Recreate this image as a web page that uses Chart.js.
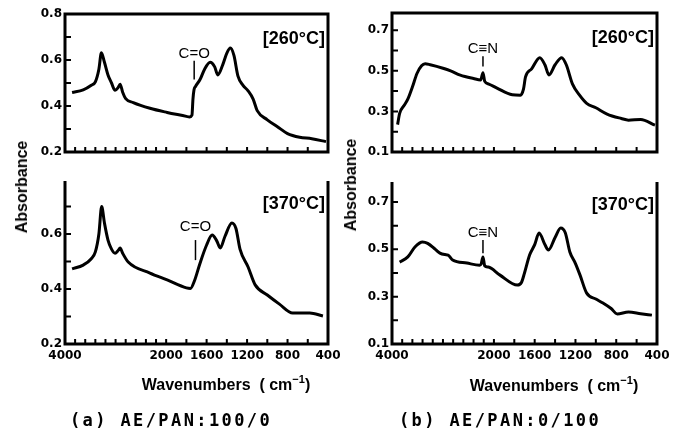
<!DOCTYPE html>
<html>
<head>
<meta charset="utf-8">
<script src="https://cdn.jsdelivr.net/npm/chart.js@4.4.1/dist/chart.umd.min.js"></script>
<style>
  body { margin: 0; background: #fff; width: 683px; height: 431px; position: relative; overflow: hidden;
         font-family: "Liberation Sans", Arial, sans-serif; }
  canvas { position: absolute; left: 0; top: 0; }
  .t { position: absolute; font-weight: bold; color: #000; white-space: nowrap; transform: translate(-50%, -50%); }
  .rot { transform: translate(-50%, -50%) rotate(-90deg); }
  .cap { font-family: "DejaVu Sans Mono", monospace; font-size: 17px; letter-spacing: 2.4px; }
  sup { font-size: 11px; position: relative; top: -1px; }
</style>
</head>
<body>
<canvas id="c1" width="683" height="431"></canvas>
<canvas id="c2" width="683" height="431"></canvas>
<canvas id="c3" width="683" height="431"></canvas>
<canvas id="c4" width="683" height="431"></canvas>

<div class="t rot" style="left:22px;top:187px;font-size:16px">Absorbance</div>
<div class="t rot" style="left:351px;top:185px;font-size:16px">Absorbance</div>
<div class="t" style="left:226px;top:384px;font-size:16px">Wavenumbers &nbsp;( cm<sup>−1</sup>)</div>
<div class="t" style="left:554px;top:385px;font-size:16px">Wavenumbers &nbsp;( cm<sup>−1</sup>)</div>
<div class="t cap" style="left:171px;top:420px">(a) AE/PAN:100/0</div>
<div class="t cap" style="left:500px;top:420px">(b) AE/PAN:0/100</div>

<script>
// tick labels / marks
const xLabels = [4000, 2000, 1600, 1200, 800, 400];
const xMarks = [4000, 3800, 3600, 3400, 3200, 3000, 2800, 2600, 2400, 2200, 2000,
                1800, 1600, 1400, 1200, 1000, 800, 600, 400];
const yLabelsTL = [0.2, 0.4, 0.6, 0.8];
const yLabelsBL = [0.2, 0.4, 0.6];
const yMarksA = [0.2, 0.3, 0.4, 0.5, 0.6, 0.7];
const yLabelsB = [0.1, 0.3, 0.5, 0.7];
const yMarksB = [0.1, 0.2, 0.3, 0.4, 0.5, 0.6, 0.7];

// (a) AE/PAN 100/0, 260 C
const wA260 = [3860, 3640, 3480, 3400, 3330, 3280, 3220, 3150, 3080, 3010, 2950, 2910, 2860, 2800, 2650,
               2320, 1990, 1800, 1770, 1745, 1735, 1725, 1710, 1665, 1620, 1565, 1520, 1490, 1440, 1400,
               1365, 1330, 1290, 1240, 1190, 1140, 1100, 1000, 900, 800, 680, 560, 420];
const aA260 = [0.459, 0.47, 0.49, 0.505, 0.56, 0.632, 0.59, 0.535, 0.50, 0.468, 0.48, 0.495, 0.46, 0.432, 0.415,
               0.39, 0.372, 0.355, 0.352, 0.36, 0.43, 0.47, 0.485, 0.515, 0.56, 0.59, 0.57, 0.535, 0.58, 0.63,
               0.652, 0.62, 0.53, 0.49, 0.466, 0.43, 0.38, 0.34, 0.31, 0.28, 0.264, 0.258, 0.245];
// (a) 370 C
const wA370 = [3860, 3640, 3480, 3400, 3330, 3275, 3220, 3150, 3080, 3010, 2950, 2910, 2860, 2750, 2320,
               1990, 1800, 1760, 1720, 1665, 1600, 1545, 1500, 1465, 1420, 1350, 1310, 1270, 1190, 1120,
               1000, 880, 750, 580, 450];
const aA370 = [0.473, 0.487, 0.51, 0.535, 0.60, 0.70, 0.64, 0.578, 0.545, 0.53, 0.54, 0.549, 0.53, 0.498, 0.458,
               0.433, 0.404, 0.402, 0.43, 0.494, 0.56, 0.596, 0.575, 0.549, 0.59, 0.64, 0.62, 0.545, 0.48, 0.415,
               0.378, 0.345, 0.313, 0.313, 0.302];
// (b) AE/PAN 0/100, 260 C
const wB260 = [3890, 3850, 3760, 3690, 3600, 3510, 3420, 3350, 3250, 3000, 2850, 2660, 2400, 2260, 2215,
               2180, 2100, 1970, 1820, 1740, 1710, 1690, 1630, 1550, 1500, 1460, 1400, 1335, 1290, 1230,
               1160, 1090, 1000, 890, 750, 680, 560, 420];
const aB260 = [0.235, 0.29, 0.33, 0.36, 0.42, 0.487, 0.525, 0.535, 0.53, 0.513, 0.50, 0.479, 0.462, 0.455, 0.49,
               0.448, 0.435, 0.415, 0.382, 0.38, 0.41, 0.47, 0.51, 0.565, 0.53, 0.48, 0.53, 0.565, 0.53, 0.436,
               0.38, 0.34, 0.318, 0.287, 0.265, 0.257, 0.26, 0.232];
// (b) 370 C
const wB370 = [3850, 3690, 3550, 3400, 3300, 3150, 3060, 2960, 2900, 2810, 2530, 2280, 2250, 2215, 2180,
               2110, 1940, 1770, 1730, 1700, 1650, 1600, 1557, 1500, 1465, 1400, 1345, 1300, 1255, 1200,
               1155, 1090, 1000, 930, 850, 790, 680, 560, 450];
const aB370 = [0.446, 0.468, 0.51, 0.531, 0.525, 0.50, 0.484, 0.478, 0.476, 0.455, 0.442, 0.433, 0.438, 0.468, 0.43,
               0.425, 0.391, 0.349, 0.36, 0.40, 0.476, 0.52, 0.569, 0.52, 0.497, 0.55, 0.59, 0.57, 0.489, 0.44,
               0.391, 0.315, 0.29, 0.273, 0.25, 0.227, 0.235, 0.228, 0.222];

// IR style axis: 4000-2000 drawn at half the scale of 2000-400
function fold(w) { return w > 2000 ? (4000 - w) / 2 : 1000 + (2000 - w); }

class SplitScale extends Chart.LinearScale {
  getPixelForValue(value) {
    const a = fold(this.max), b = fold(this.min);
    return this.getPixelForDecimal((fold(value) - a) / (b - a));
  }
}
SplitScale.id = 'split';
SplitScale.defaults = Chart.LinearScale.defaults;
Chart.register(SplitScale);

const framePlugin = {
  id: 'frame',
  afterDraw(chart, args, o) {
    const { ctx, chartArea: { left, right, top, bottom }, scales: { x, y } } = chart;
    ctx.save();
    ctx.strokeStyle = '#000';
    ctx.fillStyle = '#000';
    ctx.lineWidth = 2;
    ctx.beginPath();
    xMarks.forEach(w => {
      const px = x.getPixelForValue(w);
      ctx.moveTo(px, bottom); ctx.lineTo(px, bottom - 5);
    });
    o.yMarks.forEach(v => {
      const py = y.getPixelForValue(v);
      ctx.moveTo(left, py); ctx.lineTo(left + 6, py);
    });
    ctx.stroke();

    ctx.lineWidth = 3;
    ctx.beginPath();
    if (o.topLine) {
      ctx.rect(left, top, right - left, bottom - top);
    } else {
      ctx.moveTo(left, top + 2); ctx.lineTo(left, bottom);
      ctx.lineTo(right, bottom); ctx.lineTo(right, top + 2);
    }
    ctx.stroke();

    ctx.font = 'bold 18px "Liberation Sans", Arial, sans-serif';
    ctx.textAlign = 'right';
    ctx.textBaseline = 'middle';
    ctx.fillText(o.temp, right - 3, top + 25);

    const nx = x.getPixelForValue(o.noteW);
    ctx.font = '15px "Liberation Sans", "DejaVu Sans", sans-serif';
    ctx.textAlign = 'center';
    ctx.fillText(o.note, nx, y.getPixelForValue(o.noteY[0]));
    ctx.lineWidth = 1.5;
    ctx.beginPath();
    ctx.moveTo(nx, y.getPixelForValue(o.noteY[1]));
    ctx.lineTo(nx, y.getPixelForValue(o.noteY[2]));
    ctx.stroke();
    ctx.restore();
  }
};

const panels = [
  { id: 'c1', w: wA260, a: aA260, left: 65, right: 328, top: 14, bottom: 174, min: 0.2, max: 0.8,
    yLabels: yLabelsTL, yMarks: yMarksA, xAxis: false, topLine: true,
    temp: '[260°C]', note: 'C=O', noteW: 1723, noteY: [0.627, 0.597, 0.515] },
  { id: 'c2', w: wA370, a: aA370, left: 65, right: 328, top: 179, bottom: 344, min: 0.2, max: 0.8,
    yLabels: yLabelsBL, yMarks: yMarksA, xAxis: true, topLine: false,
    temp: '[370°C]', note: 'C=O', noteW: 1710, noteY: [0.625, 0.578, 0.505] },
  { id: 'c3', w: wB260, a: aB260, left: 392, right: 657, top: 13, bottom: 174, min: 0.1, max: 0.785,
    yLabels: yLabelsB, yMarks: yMarksB, xAxis: false, topLine: true,
    temp: '[260°C]', note: 'C≡N', noteW: 2215, noteY: [0.606, 0.572, 0.521] },
  { id: 'c4', w: wB370, a: aB370, left: 392, right: 657, top: 180, bottom: 344, min: 0.1, max: 0.793,
    yLabels: yLabelsB, yMarks: yMarksB, xAxis: true, topLine: false,
    temp: '[370°C]', note: 'C≡N', noteW: 2215, noteY: [0.569, 0.539, 0.484] }
];

const tickFont = { family: '"DejaVu Sans", sans-serif', size: 12, weight: 'bold' };
const yW = 30, xH = 22;

panels.forEach(p => {
  new Chart(document.getElementById(p.id), {
    type: 'line',
    data: {
      datasets: [{
        data: p.w.map((w, i) => ({ x: w, y: p.a[i] })),
        borderColor: '#000',
        borderWidth: 3,
        pointRadius: 0,
        cubicInterpolationMode: 'monotone',
        fill: false
      }]
    },
    options: {
      responsive: false,
      animation: false,
      events: [],
      layout: {
        padding: {
          left: p.left - yW,
          right: 683 - p.right,
          top: p.top,
          bottom: 431 - p.bottom - (p.xAxis ? xH : 0)
        }
      },
      plugins: {
        legend: { display: false },
        tooltip: { enabled: false },
        frame: p
      },
      scales: {
        x: {
          type: 'split',
          min: 400, max: 4000,
          display: p.xAxis,
          grid: { display: false, drawTicks: false },
          border: { display: false },
          afterBuildTicks: s => { s.ticks = xLabels.map(v => ({ value: v })); },
          afterFit: s => { s.height = xH; },
          ticks: { color: '#000', font: tickFont, padding: 5, maxRotation: 0, autoSkip: false,
                   callback: v => String(v) }
        },
        y: {
          min: p.min, max: p.max,
          grid: { display: false, drawTicks: false },
          border: { display: false },
          afterBuildTicks: s => { s.ticks = p.yLabels.map(v => ({ value: v })); },
          afterFit: s => { s.width = yW; },
          ticks: { color: '#000', font: tickFont, padding: 3, autoSkip: false,
                   callback: v => v.toFixed(1) }
        }
      }
    },
    plugins: [framePlugin]
  });
});
</script>
</body>
</html>
